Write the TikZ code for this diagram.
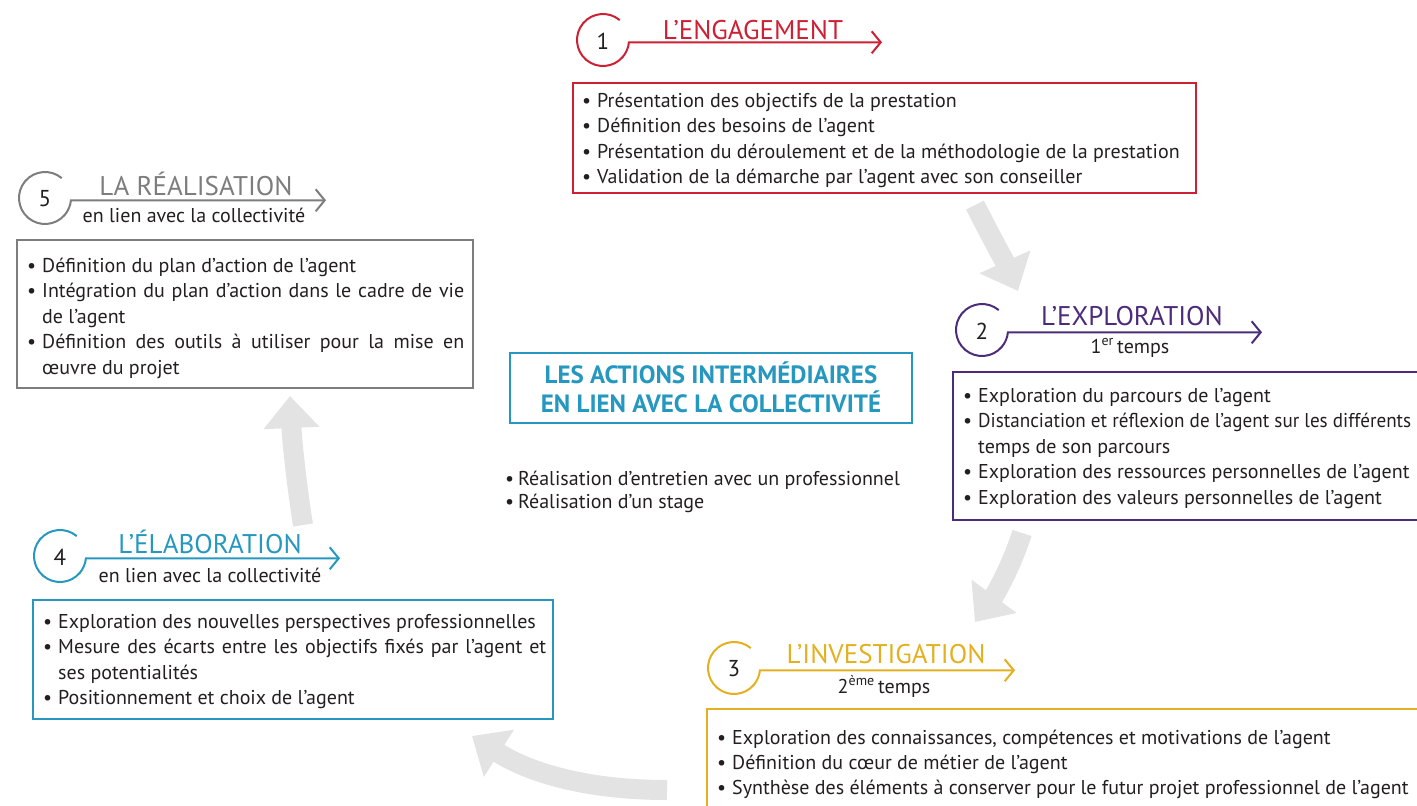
\documentclass[tikz,border=0pt]{standalone}
\usepackage{fontspec}
\setmainfont{PT Sans}
\usetikzlibrary{arrows.meta}
\definecolor{cred}{RGB}{206,32,52}
\definecolor{cpur}{RGB}{76,44,122}
\definecolor{cyel}{RGB}{228,176,32}
\definecolor{cblu}{RGB}{38,152,192}
\definecolor{cgry}{RGB}{125,125,125}
\definecolor{carr}{RGB}{227,227,227}
\definecolor{ctxt}{RGB}{35,31,32}
\newcommand\Bu{\makebox[15pt][l]{\textbullet}}
\newcommand\Co{\hspace*{15pt}}
\newcommand\Just[2]{\makebox[#1][s]{\spaceskip=2.5pt plus 12pt minus 1pt #2}}
\newcommand\Fit[2]{\resizebox{#1}{\height}{#2}}
\tikzset{
 boxline/.style={line width=1.8pt},
 ln/.style={anchor=base west, inner sep=0, font=\fontsize{20}{24}\selectfont, text=ctxt},
 ttl/.style={anchor=base, inner sep=0, font=\fontsize{27}{30}\selectfont},
 subt/.style={anchor=base, inner sep=0, font=\fontsize{20}{24}\selectfont, text=ctxt},
 num/.style={inner sep=0, font=\fontsize{23}{26}\selectfont, text=ctxt},
 hd/.style={line width=2pt, -{Straight Barb[length=9pt,width=22pt,line width=2pt]}},
 garr/.style={draw=carr, line width=20pt, -{Triangle[length=32pt,width=54pt]}},
 ctl/.style={anchor=base, inner sep=0, font=\fontsize{25}{28}\selectfont\bfseries, text=cblu},
}
\newcommand\Head[6]{%
 \coordinate (#1c) at (#3,-#4);
 \draw[hd, #2] (#1c) ++(50:26) arc(50:355:26) -- (#5, {-#4-2.3});
 \node[num] (#1n) at (#3,{-#4-1}) {#6};
}
\newcommand\Lines[5]{\foreach \t [count=\i] in {#5} \node[ln] (#1\i) at (#2, {-#3-(\i-1)*#4}) {\t};}
\begin{document}
\begin{tikzpicture}[x=1pt,y=1pt]
\useasboundingbox (0,0) rectangle (1417,-806);
\begin{scope}
\clip (0,0) rectangle (1417,-806);
% gray connectors
\coordinate (a1s) at (975,-205); \coordinate (a1e) at (1018,-291);
\coordinate (a2s) at (1022,-533); \coordinate (a2e) at (975,-622);
\coordinate (a3s) at (667,-790); \coordinate (a3e) at (472,-736);
\coordinate (a4s) at (303,-525); \coordinate (a4e) at (290,-396);
\draw[garr] (a1s) .. controls (990,-235) and (1005,-262) .. (a1e);
\draw[garr] (a2s) .. controls (1012,-565) and (995,-595) .. (a2e);
\draw[garr] (a3s) .. controls (580,-790) and (525,-770) .. (a3e);
\draw[garr] (a4s) .. controls (296,-480) and (292,-440) .. (a4e);
% boxes
\draw[boxline, cred] (573,-83) rectangle (1196,-193);
\draw[boxline, cgry] (17,-240) rectangle (473,-388);
\draw[boxline, cpur] (953,-372) rectangle (1430,-520);
\draw[boxline, cyel] (707,-709) rectangle (1430,-830);
\draw[boxline, cblu] (33,-600) rectangle (553,-719);
\node[draw=cblu, line width=2pt, minimum width=402pt, minimum height=70pt, inner sep=0] (cbox) at (711,-388) {};
\end{scope}
% headers
\Head{h1}{cred}{603}{40}{882}{1}
\Head{h5}{cgry}{45}{198}{326}{5}
\Head{h2}{cpur}{982}{330}{1262}{2}
\Head{h3}{cyel}{734}{668}{1015}{3}
\Head{h4}{cblu}{60}{556}{340}{4}
\node[ttl, text=cred] (t1) at (753,-39.5) {L’ENGAGEMENT};
\node[ttl, text=cgry] (t5) at (196,-195) {LA RÉALISATION};
\node[subt] (s5) at (194,-222) {en lien avec la collectivité};
\node[ttl, text=cpur] (t2) at (1132,-325) {L’EXPLORATION};
\node[subt] (s2) at (1130,-353) {1\textsuperscript{er}\,temps};
\node[ttl, text=cyel] (t3) at (886,-663) {L’INVESTIGATION};
\node[subt] (s3) at (884,-693) {2\textsuperscript{ème}\,temps};
\node[ttl, text=cblu] (t4) at (210,-553) {L’ÉLABORATION};
\node[subt] (s4) at (210,-582) {en lien avec la collectivité};
% box texts
\Lines{b1}{582}{107}{25.6}{{\Bu Présentation des objectifs de la prestation},{\Bu Définition des besoins de l’agent},{\Bu Présentation du déroulement et de la méthodologie de la prestation},{\Bu Validation de la démarche par l’agent avec son conseiller}}
\Lines{b5}{27}{272}{25.5}{{\Bu Définition du plan d’action de l’agent},{\Bu\Just{422pt}{Intégration du plan d’action dans le cadre de vie}},{\Co de l’agent},{\Bu\Just{422pt}{Définition des outils à utiliser pour la mise en}},{\Co œuvre du projet}}
\Lines{b2}{963}{402}{25.5}{{\Bu Exploration du parcours de l’agent},{\Bu\Fit{433pt}{Distanciation et réflexion de l’agent sur les différents}},{\Co temps de son parcours},{\Bu Exploration des ressources personnelles de l’agent},{\Bu Exploration des valeurs personnelles de l’agent}}
\Lines{b3}{717}{744}{25}{{\Bu Exploration des connaissances, compétences et motivations de l’agent},{\Bu Définition du cœur de métier de l’agent},{\Bu Synthèse des éléments à conserver pour le futur projet professionnel de l’agent}}
\Lines{b4}{43}{628}{25.6}{{\Bu Exploration des nouvelles perspectives professionnelles},{\Bu\Just{488pt}{Mesure des écarts entre les objectifs fixés par l’agent et}},{\Co ses potentialités},{\Bu Positionnement et choix de l’agent}}
% center
\node[ln] (m1) at (505,-485) {\makebox[13pt][l]{\textbullet}Réalisation d’entretien avec un professionnel};
\node[ln] (m2) at (505,-508) {\makebox[13pt][l]{\textbullet}Réalisation d’un stage};
\node[ctl] (c1) at (711,-383) {LES ACTIONS INTERMÉDIAIRES};
\node[ctl] (c2) at (711,-412) {EN LIEN AVEC LA COLLECTIVITÉ};
\end{tikzpicture}
\end{document}
